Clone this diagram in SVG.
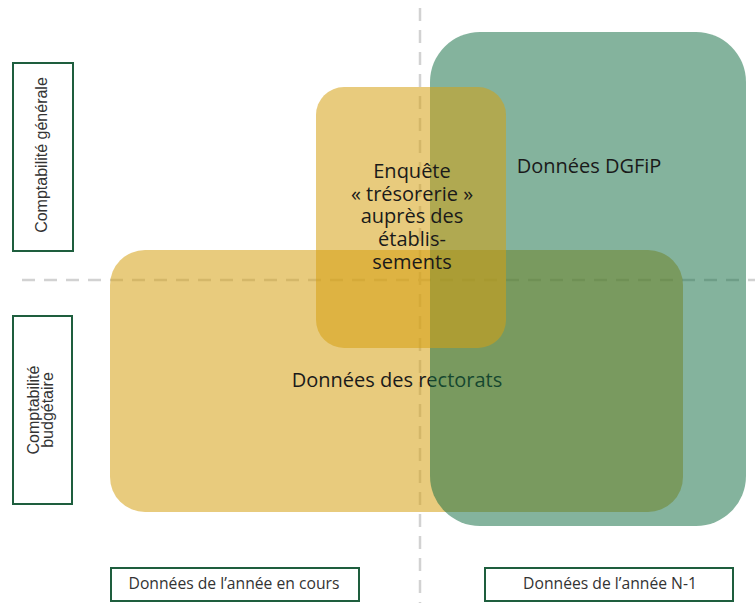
<svg xmlns="http://www.w3.org/2000/svg" width="755" height="603" viewBox="0 0 755 603">
<style>
.dash{stroke:#d2d2d2;stroke-width:2.5;stroke-dasharray:13 9;fill:none}
.yel{fill:#d5a013;fill-opacity:0.55}
.grn{fill:#136d43;fill-opacity:0.52}
.main{font-family:"Open Sans",Lato,sans-serif;font-size:20px;fill:#1a1a1a;text-anchor:middle}
.lbl{fill:#fff;stroke:#1e5e3e;stroke-width:2}
.side{font-family:"Liberation Sans",Arial,sans-serif;font-size:16px;fill:#333;text-anchor:middle}
.bot{font-family:"Open Sans",Lato,sans-serif;font-size:15.7px;fill:#333;text-anchor:middle}
</style>
<rect width="755" height="603" fill="#fff"/>
<g id="axes">
<line class="dash" x1="420" y1="8" x2="420" y2="603"/>
<line class="dash" x1="22" y1="280" x2="755" y2="280"/>
</g>
<g id="rectorats">
<rect class="yel" x="110" y="250" width="573" height="262" rx="35"/>
<text class="main" x="397" y="387">Données des rectorats</text>
</g>
<g id="dgfip">
<rect class="grn" x="430" y="32" width="316" height="494" rx="50"/>
<text class="main" x="589" y="173">Données DGFiP</text>
</g>
<g id="enquete">
<rect class="yel" x="316" y="87" width="190" height="261" rx="28"/>
<text class="main" x="412" y="178">Enquête</text>
<text class="main" x="412" y="201">« trésorerie »</text>
<text class="main" x="412" y="223">auprès des</text>
<text class="main" x="412" y="246">établis-</text>
<text class="main" x="412" y="269">sements</text>
</g>
<g id="compta-generale">
<rect class="lbl" x="13" y="63" width="60" height="188"/>
<text class="side" transform="translate(47,155) rotate(-90)">Comptabilité générale</text>
</g>
<g id="compta-budgetaire">
<rect class="lbl" x="13" y="316" width="59" height="188"/>
<text class="side" transform="translate(39,410) rotate(-90)">Comptabilité</text>
<text class="side" transform="translate(53,410) rotate(-90)">budgétaire</text>
</g>
<g id="annee-en-cours">
<rect class="lbl" x="111" y="568" width="248" height="33"/>
<text class="bot" x="234" y="589">Données de l’année en cours</text>
</g>
<g id="annee-n1">
<rect class="lbl" x="485" y="568" width="248" height="33"/>
<text class="bot" x="610" y="589">Données de l’année N-1</text>
</g>
</svg>
